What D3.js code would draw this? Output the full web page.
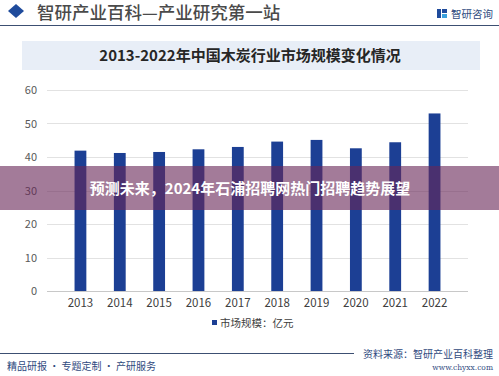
<!DOCTYPE html>
<html>
<head>
<meta charset="utf-8">
<script src="https://cdn.jsdelivr.net/npm/d3@7"></script>
<style>
  body { margin: 0; background: #fff; }
  svg { display: block; font-family: "Noto Sans CJK SC", "Noto Sans", sans-serif; }
</style>
</head>
<body>
<svg width="499" height="376"></svg>
<script>
// chart data
const years = ["2013", "2014", "2015", "2016", "2017", "2018", "2019", "2020", "2021", "2022"];
const marketSize = [41.9, 41.2, 41.5, 42.3, 43.0, 44.6, 45.1, 42.6, 44.4, 53.0];
const yTicks = [0, 10, 20, 30, 40, 50, 60];

const svg = d3.select("svg");
const W = 499;

// header
svg.append("path")
  .attr("d", "M16,4 L24,11 L16,18 L8,11 Z")
  .attr("fill", "#1f4b9c");
svg.append("text")
  .attr("x", 37).attr("y", 19)
  .attr("font-size", 17.5).attr("font-weight", 500)
  .attr("fill", "#4a4a4a")
  .text("智研产业百科—产业研究第一站");
svg.append("line")
  .attr("x1", 0).attr("x2", W).attr("y1", 25.5).attr("y2", 25.5)
  .attr("stroke", "#3c4f72").attr("stroke-width", 1);

// logo
let logo = svg.append("g").attr("transform", "translate(437,8)");
logo.append("rect").attr("x", 0).attr("y", 1).attr("width", 4).attr("height", 9).attr("fill", "#1f4b9c");
logo.append("rect").attr("x", 5).attr("y", 1).attr("width", 5).attr("height", 4).attr("fill", "#1f4b9c");
logo.append("rect").attr("x", 5).attr("y", 6).attr("width", 5).attr("height", 4).attr("fill", "#3aa0dc");
svg.append("text")
  .attr("x", 451).attr("y", 17.5)
  .attr("font-size", 10.5).attr("fill", "#2f4a80")
  .text("智研咨询");

// title box
svg.append("rect")
  .attr("x", 22).attr("y", 41).attr("width", 458).attr("height", 29)
  .attr("fill", "#e8eef7");
svg.append("text")
  .attr("x", 250).attr("y", 61)
  .attr("text-anchor", "middle")
  .attr("font-size", 15).attr("font-weight", 700)
  .attr("fill", "#262626")
  .text("2013-2022年中国木炭行业市场规模变化情况");

// scales
const x = d3.scaleBand().domain(years).range([47, 468]).padding(0.7);
const y = d3.scaleLinear().domain([0, 60]).range([291, 90]);

// grid
svg.append("g")
  .selectAll("line")
  .data(yTicks)
  .enter()
  .append("line")
  .attr("x1", 47).attr("x2", 468)
  .attr("y1", d => Math.round(y(d)) + 0.5)
  .attr("y2", d => Math.round(y(d)) + 0.5)
  .attr("stroke", d => d === 0 ? "#c8c8c8" : "#e2e2e2");

// y axis labels
svg.append("g")
  .selectAll("text")
  .data(yTicks)
  .enter()
  .append("text")
  .attr("x", 37)
  .attr("y", d => y(d) + 4)
  .attr("text-anchor", "end")
  .attr("font-size", 11)
  .attr("fill", "#595959")
  .text(d => d);

// bars
svg.append("g")
  .selectAll("rect")
  .data(marketSize)
  .enter()
  .append("rect")
  .attr("x", (d, i) => x(years[i]))
  .attr("width", x.bandwidth())
  .attr("y", d => y(d))
  .attr("height", d => y(0) - y(d))
  .attr("fill", "#1c3f94");

// x axis labels
svg.append("g")
  .selectAll("text")
  .data(years)
  .enter()
  .append("text")
  .attr("x", d => x(d) + x.bandwidth() / 2)
  .attr("y", 307)
  .attr("text-anchor", "middle")
  .attr("font-size", 11.5)
  .attr("fill", "#404040")
  .text(d => d);

// legend
svg.append("rect")
  .attr("x", 212).attr("y", 320).attr("width", 5).attr("height", 5)
  .attr("fill", "#1c3f94");
svg.append("text")
  .attr("x", 220).attr("y", 327)
  .attr("font-size", 10.5).attr("fill", "#404040")
  .text("市场规模：亿元");

// footer
svg.append("line")
  .attr("x1", 0).attr("x2", 354).attr("y1", 353.5).attr("y2", 353.5)
  .attr("stroke", "#3c4f72").attr("stroke-width", 1);
svg.append("text")
  .attr("x", 493).attr("y", 358)
  .attr("text-anchor", "end")
  .attr("font-size", 10).attr("fill", "#2f4a80")
  .text("资料来源：智研产业百科整理");
svg.append("text")
  .attr("x", 493).attr("y", 370)
  .attr("text-anchor", "end")
  .attr("font-size", 7.5).attr("font-family", "DejaVu Serif")
  .attr("fill", "#2f4a80")
  .text("www.chyxx.com");
svg.append("text")
  .attr("x", 7).attr("y", 370)
  .attr("font-size", 10).attr("fill", "#2f4a80")
  .text("精品研报 · 专题定制 · 产研服务");

// overlay banner
svg.append("rect")
  .attr("x", 0).attr("y", 166).attr("width", W).attr("height", 44)
  .attr("fill", "rgb(104,40,88)").attr("fill-opacity", 0.61);
svg.append("text")
  .attr("x", 250).attr("y", 194)
  .attr("text-anchor", "middle")
  .attr("font-size", 15).attr("font-weight", 700)
  .attr("fill", "#ffffff")
  .text("预测未来，2024年石浦招聘网热门招聘趋势展望");
</script>
</body>
</html>
